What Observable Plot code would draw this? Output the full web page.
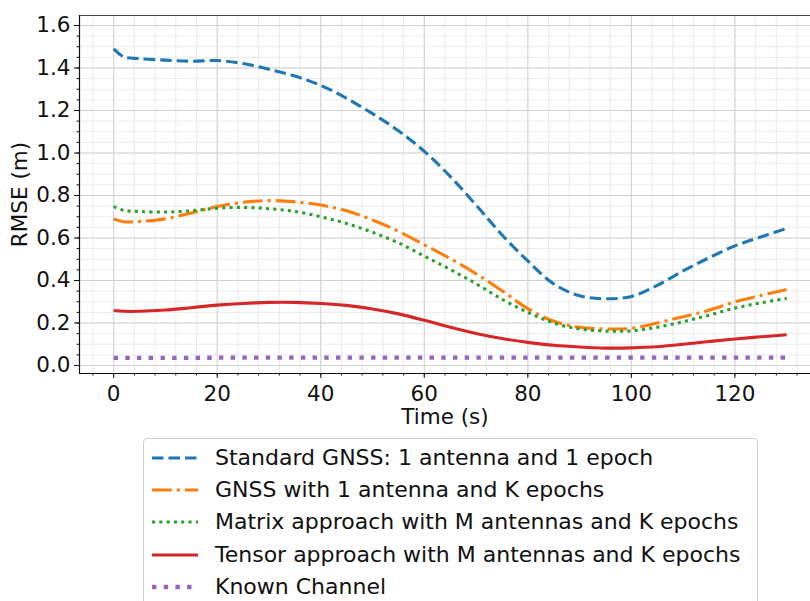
<!DOCTYPE html>
<html>
<head>
<meta charset="utf-8">
<script src="https://cdn.jsdelivr.net/npm/d3@7"></script>
<script src="https://cdn.jsdelivr.net/npm/@observablehq/plot@0.6"></script>
<style>
  html, body { margin: 0; padding: 0; background: white; overflow: hidden; }
  #chart { position: absolute; left: 0; top: 0; }
  #legend { position: absolute; left: 143px; top: 438px; width: 613px; height: 200px;
            border: 1px solid #cfcfcf; border-radius: 4px; background: white;
            font-family: "DejaVu Sans", sans-serif; font-size: 22px; color: #111; }
  .row { position: absolute; left: 0; height: 32px; line-height: 32px; white-space: nowrap; }
  .row svg { position: absolute; left: 8px; top: 0; }
  .row span { position: absolute; left: 71px; top: 0; }
</style>
</head>
<body>
<div id="chart"></div>
<div id="legend"></div>
<script>
// ---- data ----
const time = [0, 2, 5, 10, 15, 20, 25, 30, 35, 40, 45, 50, 55, 60, 65, 70, 75, 80, 85, 90, 95, 100, 105, 110, 115, 120, 125, 130];
const standardGNSS = [1.49, 1.452, 1.444, 1.437, 1.432, 1.435, 1.421, 1.394, 1.362, 1.318, 1.257, 1.185, 1.105, 1.008, 0.89, 0.755, 0.615, 0.492, 0.384, 0.328, 0.314, 0.325, 0.377, 0.445, 0.507, 0.563, 0.605, 0.645];
const gnssKEpochs = [0.69, 0.676, 0.678, 0.69, 0.718, 0.748, 0.768, 0.776, 0.77, 0.755, 0.728, 0.685, 0.632, 0.568, 0.503, 0.432, 0.352, 0.268, 0.208, 0.18, 0.172, 0.175, 0.2, 0.23, 0.26, 0.3, 0.33, 0.358];
const matrixApproach = [0.748, 0.73, 0.725, 0.722, 0.728, 0.74, 0.744, 0.738, 0.725, 0.7, 0.668, 0.627, 0.577, 0.515, 0.452, 0.385, 0.312, 0.25, 0.2, 0.172, 0.162, 0.163, 0.18, 0.206, 0.237, 0.27, 0.295, 0.316];
const tensorApproach = [0.259, 0.255, 0.255, 0.261, 0.272, 0.284, 0.292, 0.297, 0.297, 0.292, 0.283, 0.266, 0.243, 0.213, 0.18, 0.151, 0.127, 0.109, 0.095, 0.087, 0.082, 0.083, 0.088, 0.1, 0.113, 0.125, 0.135, 0.145];
const knownChannel = [0.036, 0.036, 0.036, 0.036, 0.036, 0.037, 0.037, 0.037, 0.037, 0.037, 0.037, 0.037, 0.037, 0.037, 0.037, 0.037, 0.037, 0.037, 0.037, 0.037, 0.037, 0.037, 0.037, 0.037, 0.037, 0.037, 0.037, 0.037];
const seriesNames = [
  "Standard GNSS: 1 antenna and 1 epoch",
  "GNSS with 1 antenna and K epochs",
  "Matrix approach with M antennas and K epochs",
  "Tensor approach with M antennas and K epochs",
  "Known Channel"
];
const xTicks = [0, 20, 40, 60, 80, 100, 120];
const yTicks = [0.0, 0.2, 0.4, 0.6, 0.8, 1.0, 1.2, 1.4, 1.6];
const xLabel = "Time (s)";
const yLabel = "RMSE (m)";

// ---- styles ----
const styles = [
  {stroke: "#1f77b4", strokeWidth: 3.1, dash: "11.5,5"},
  {stroke: "#ff7f0e", strokeWidth: 3.1, dash: "19.8,5,3.1,5"},
  {stroke: "#2ca02c", strokeWidth: 3.1, dash: "3.1,4.2"},
  {stroke: "#d62728", strokeWidth: 3.1, dash: null},
  {stroke: "#9467bd", strokeWidth: 4.4, dash: "4.4,7.3"}
];

const values = [standardGNSS, gnssKEpochs, matrixApproach, tensorApproach, knownChannel];
const tables = values.map(vs => time.map((t, i) => ({t, v: vs[i]})));

const xDomain = [-6.6, 134.6];
const yDomain = [-0.0376, 1.647];
const minorX = d3.range(-1, 34).map(i => i * 4).filter(d => d > xDomain[0] && d < xDomain[1]);
const minorY = d3.range(0, 33).map(i => i * 0.05);

const lineMarks = tables.map((data, i) => Plot.line(data, {
  x: "t", y: "v",
  stroke: styles[i].stroke,
  strokeWidth: styles[i].strokeWidth,
  strokeDasharray: styles[i].dash || undefined,
  strokeLinecap: "butt",
  strokeLinejoin: "round",
  curve: "catmull-rom"
}));

const chart = Plot.plot({
  width: 810,
  height: 430,
  marginTop: 15,
  marginBottom: 57,
  marginLeft: 79,
  marginRight: 0,
  x: {domain: xDomain},
  y: {domain: yDomain},
  style: {fontFamily: "DejaVu Sans", fontSize: "21.5px", color: "#111", background: "white", overflow: "visible"},
  marks: [
    Plot.ruleX(minorX, {stroke: "#ebebeb", strokeWidth: 1}),
    Plot.ruleY(minorY, {stroke: "#ebebeb", strokeWidth: 1}),
    Plot.ruleX(xTicks, {stroke: "#d2d2d2", strokeWidth: 1}),
    Plot.ruleY(yTicks, {stroke: "#d2d2d2", strokeWidth: 1}),
    ...lineMarks,
    Plot.ruleY([yDomain[1]], {stroke: "#444", strokeWidth: 1.2}),
    Plot.ruleY([yDomain[0]], {stroke: "#111", strokeWidth: 1.2}),
    Plot.ruleX([xDomain[0]], {stroke: "#111", strokeWidth: 1.2}),
    Plot.axisX({ticks: xTicks, tickSize: 5, tickPadding: 7, label: null, tickFormat: d => String(d)}),
    Plot.axisX({ticks: minorX, tickSize: 2.5, label: null, tickFormat: () => ""}),
    Plot.axisY({ticks: yTicks, tickSize: 5, tickPadding: 4, label: null, tickFormat: d => d.toFixed(1)}),
    Plot.axisY({ticks: minorY, tickSize: 2.5, label: null, tickFormat: () => ""}),
    Plot.text([xLabel], {text: d => d, frameAnchor: "bottom", dy: 44, lineAnchor: "middle", textAnchor: "middle", fontSize: 21.5, fill: "#111"}),
    Plot.text([yLabel], {text: d => d, frameAnchor: "left", dx: -59, rotate: -90, lineAnchor: "middle", textAnchor: "middle", fontSize: 21.5, fill: "#111"})
  ]
});
chart.style.display = "block";
document.getElementById("chart").appendChild(chart);

// ---- legend ----
const legend = document.getElementById("legend");
seriesNames.forEach((name, i) => {
  const row = document.createElement("div");
  row.className = "row";
  row.style.top = (2.5 + i * 32.4) + "px";
  const st = styles[i];
  row.innerHTML = `<svg width="46" height="32"><line x1="0" x2="46" y1="16" y2="16" stroke="${st.stroke}" stroke-width="${st.strokeWidth}" ${st.dash ? `stroke-dasharray="${st.dash}"` : ""} stroke-linecap="butt"/></svg><span>${name}</span>`;
  legend.appendChild(row);
});
</script>
</body>
</html>
